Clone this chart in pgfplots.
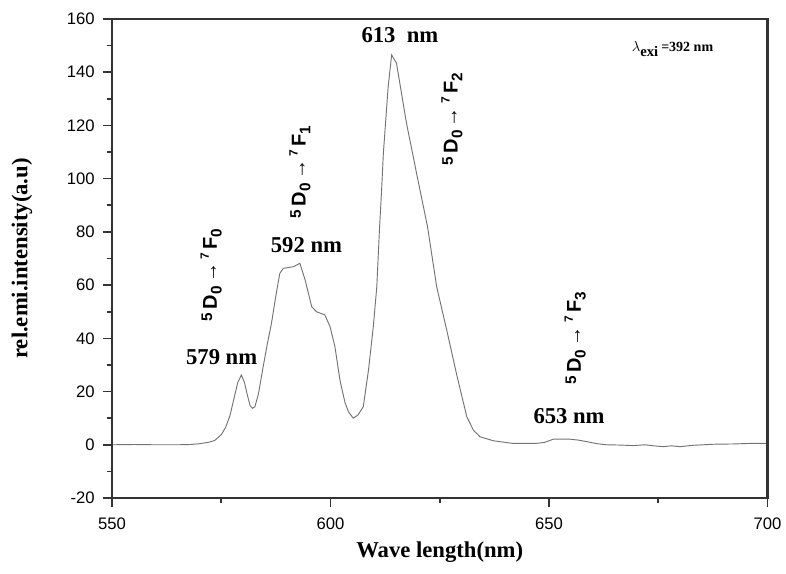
\documentclass[border=0pt]{standalone}
\usepackage{fontspec}
\setmainfont{Liberation Serif}
\setsansfont{Liberation Sans}
\usepackage{pgfplots}
\pgfplotsset{compat=1.18}
\newcommand{\sm}[1]{{\fontsize{11.5}{12}\selectfont #1}}
\newcommand{\trans}[1]{\raisebox{0.45ex}{\sm{5}}\,D\raisebox{-0.45ex}{\sm{0}}\,{\fontsize{15}{15}\selectfont →}\,\raisebox{0.75ex}{\fontsize{9}{9}\selectfont 7}\,F\raisebox{-0.45ex}{\sm{#1}}}
\begin{document}
\begin{tikzpicture}
\begin{axis}[
 scale only axis, width=491.6pt, height=359.25pt,
 xmin=550, xmax=700, ymin=-20, ymax=160,
 xtick={550,600,650,700}, minor x tick num=1,
 ytick={-20,0,20,40,60,80,100,120,140,160}, minor y tick num=1,
 tick align=outside, xtick pos=left, ytick pos=left,
 major tick length=7pt, minor tick length=4pt,
 axis line style={line width=1.5pt, color=black!80},
 every tick/.style={line width=1.2pt, black!80},
 /pgf/number format/assume math mode=true,
 ticklabel style={font=\sffamily\fontsize{12.5}{15}\selectfont},
 xticklabel style={yshift=-4.5pt},
 yticklabel style={xshift=-2.5pt},
 xlabel={Wave length(nm)}, ylabel={rel.emi.intensity(a.u)},
 label style={font=\bfseries\fontsize{17}{20}\selectfont},
 xlabel style={at={(axis description cs:0.5,-0.113)}, anchor=center},
 ylabel style={at={(axis description cs:-0.1373,0.5)}, anchor=center},
 clip=false,
]
\addplot[black!55, line width=0.7pt] table {
550 0
555 0.1
560 0
565 0
568 0.1
570 0.4
572 0.9
573.5 1.6
575 3.8
576 6.5
577 11
578 18
578.8 23.5
579.6 26.2
580.3 23.5
581 18.5
581.6 14.8
582.1 13.7
582.7 14.3
583.5 19
584.6 29.4
585.5 37.5
586.5 45.7
587.5 56
588.4 64.4
589.2 66.3
591.5 66.9
593 68.2
594.2 61.9
595.7 51.9
596.8 50
598.7 48.8
599.9 44.4
601 37
602.2 24
603.3 16
604.1 12.4
605.2 10
606.3 11.2
607.5 14.3
608.7 28.1
609.8 44.4
610.6 59.4
611.2 80.7
611.7 95.8
612.1 109.5
613.2 134.6
614 146.5
615.1 143.4
617.4 120.8
619.7 102
622.2 82
624.3 59.4
626.6 43.1
628.9 26.2
631.2 10.5
632.7 5.5
634.2 3
637.3 1.5
641.8 0.5
647 0.5
649 0.9
651 2.1
654.8 2.1
656.5 1.8
658.6 1.2
661 0.4
663.2 0
666 -0.1
669.3 -0.3
672 0
674 -0.4
676.2 -0.7
678 -0.4
680 -0.7
683 -0.2
687.6 0.2
692 0.3
696 0.5
700 0.5
};
\draw[line width=1.6pt, black!80] (rel axis cs:0,0) rectangle (rel axis cs:1,1);
\node[font=\bfseries\fontsize{17}{20}\selectfont, anchor=base] at (axis cs:615.9,151) {613\ \ nm};
\node[font=\bfseries\fontsize{17}{20}\selectfont, anchor=base] at (axis cs:594.5,72.1) {592 nm};
\node[font=\bfseries\fontsize{17}{20}\selectfont, anchor=base] at (axis cs:575.1,30) {579 nm};
\node[font=\bfseries\fontsize{17}{20}\selectfont, anchor=base] at (axis cs:654.6,8.1) {653 nm};
\node[font=\sffamily\bfseries\fontsize{15}{18}\selectfont, rotate=90] at (axis cs:572.7,63.8) {\trans{0}};
\node[font=\sffamily\bfseries\fontsize{15}{18}\selectfont, rotate=90] at (axis cs:593,102.5) {\trans{1}};
\node[font=\sffamily\bfseries\fontsize{15}{18}\selectfont, rotate=90] at (axis cs:627.8,122.4) {\trans{2}};
\node[font=\sffamily\bfseries\fontsize{15}{18}\selectfont, rotate=90] at (axis cs:656,40) {\trans{3}};
\node[font=\bfseries\fontsize{10.5}{12}\selectfont, anchor=base west, inner sep=0pt] at (axis cs:668.9,147.9) {$\lambda$\textsubscript{\fontsize{11}{12}\selectfont exi}\,=392 nm};
\end{axis}
\pgfresetboundingbox
\path ([shift={(-84pt,-57pt)}]current axis.south west) rectangle ([shift={(13.9pt,14.25pt)}]current axis.north east);
\end{tikzpicture}
\end{document}
